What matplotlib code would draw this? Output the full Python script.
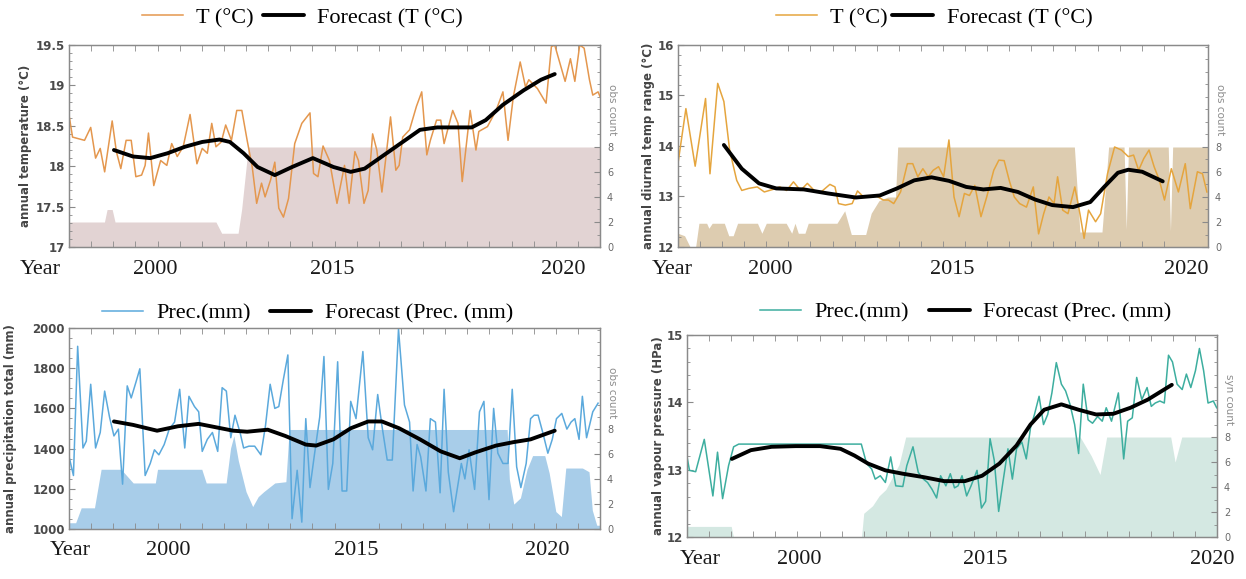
import matplotlib
matplotlib.use("Agg")
import matplotlib.pyplot as plt
from matplotlib.ticker import MultipleLocator, FixedLocator, FuncFormatter

# x positions are in tick units (one minor tick per unit, 0..24 across each frame)

# ---- annual temperature
temp_t = [0, .16, .7, .98, 1.2, 1.41, 1.61, 1.95, 2.14, 2.34, 2.58, 2.81, 3.02, 3.28, 3.44, 3.59,
          3.83, 4.14, 4.42, 4.64, 4.89, 5.16, 5.47, 5.78, 6.02, 6.25, 6.45, 6.64, 6.88, 7.08, 7.34,
          7.58, 7.81, 8.05, 8.28, 8.48, 8.7, 8.86, 9.11, 9.3, 9.48, 9.69, 9.92, 10.2, 10.52, 10.89,
          11.05, 11.25, 11.48, 11.77, 12.11, 12.45, 12.66, 12.92, 13.08, 13.33, 13.52, 13.72, 13.91,
          14.14, 14.53, 14.77, 14.92, 15.08, 15.39, 15.7, 15.94, 16.17, 16.33, 16.61, 16.8, 16.95,
          17.34, 17.58, 17.77, 18.13, 18.39, 18.52, 18.91, 19.3, 19.61, 19.84, 20.08, 20.39, 20.63,
          20.78, 21.17, 21.56, 21.8, 21.95, 22.42, 22.66, 22.86, 23.08, 23.28, 23.52, 23.67, 23.91, 24.0]
temp_val = [18.63, 18.36, 18.32, 18.48, 18.10, 18.22, 17.93, 18.56, 18.18, 17.97, 18.32, 18.32, 17.87,
            17.89, 18.01, 18.41, 17.76, 18.07, 18.01, 18.28, 18.12, 18.24, 18.64, 18.03, 18.22, 18.16,
            18.53, 18.24, 18.30, 18.51, 18.32, 18.69, 18.69, 18.32, 17.99, 17.54, 17.79, 17.62, 17.83,
            18.05, 17.48, 17.37, 17.60, 18.28, 18.53, 18.66, 17.91, 17.87, 18.25, 18.07, 17.54, 18.01,
            17.54, 18.18, 18.07, 17.54, 17.70, 18.40, 18.20, 17.68, 18.61, 17.95, 18.01, 18.36, 18.45,
            18.74, 18.92, 18.14, 18.32, 18.57, 18.57, 18.28, 18.69, 18.53, 17.81, 18.69, 18.20, 18.43,
            18.49, 18.69, 18.92, 18.32, 18.86, 19.29, 18.98, 19.07, 18.96, 18.78, 19.48, 19.50, 19.05,
            19.33, 19.05, 19.50, 19.46, 19.07, 18.88, 18.92, 18.86]
temp_fc_t = [2.03, 2.89, 3.67, 4.45, 5.23, 6.02, 6.8, 7.27, 7.89, 8.52, 9.3, 10.08, 11.02, 11.95,
             12.73, 13.36, 14.14, 15.08, 15.86, 16.64, 17.42, 18.2, 18.83, 19.61, 20.55, 21.33, 21.95]
temp_fc = [18.20, 18.12, 18.10, 18.16, 18.24, 18.30, 18.33, 18.30, 18.16, 17.99, 17.89, 17.99, 18.10,
           17.99, 17.93, 17.97, 18.12, 18.30, 18.45, 18.48, 18.48, 18.48, 18.57, 18.76, 18.94, 19.07, 19.14]
temp_cnt_t = [0, 1.6, 1.72, 1.95, 2.08, 6.64, 6.9, 7.64, 7.8, 8.1, 24]
temp_cnt = [2.0, 2.0, 3.0, 3.0, 2.0, 2.0, 1.1, 1.1, 3.0, 8.0, 8.0]

# ---- annual diurnal temperature range
dtr_t = [0, .36, .78, 1.25, 1.45, 1.8, 2.08, 2.34, 2.66, 2.89, 3.2, 3.59, 3.91, 4.3, 4.61, 4.92,
         5.23, 5.55, 5.86, 6.17, 6.48, 6.88, 7.11, 7.27, 7.58, 7.89, 8.13, 8.36, 8.67, 8.98, 9.3,
         9.53, 9.77, 10.08, 10.39, 10.63, 10.86, 11.09, 11.33, 11.56, 11.8, 12.03, 12.27, 12.5, 12.73,
         12.97, 13.2, 13.44, 13.72, 13.98, 14.3, 14.53, 14.77, 15.0, 15.23, 15.47, 15.78, 16.09,
         16.33, 16.56, 16.8, 17.03, 17.19, 17.42, 17.66, 17.97, 18.2, 18.39, 18.59, 18.91, 19.14,
         19.45, 19.77, 20.08, 20.39, 20.63, 20.86, 21.09, 21.33, 21.56, 21.8, 22.03, 22.34, 22.66,
         22.97, 23.2, 23.52, 23.75, 23.95]
dtr_val = [13.65, 14.74, 13.60, 14.94, 13.45, 15.24, 14.88, 13.92, 13.32, 13.12, 13.16, 13.19, 13.09,
           13.14, 13.19, 13.12, 13.29, 13.12, 13.26, 13.12, 13.09, 13.24, 13.19, 12.86, 12.83, 12.86,
           13.11, 13.01, 12.99, 13.01, 12.93, 12.93, 12.86, 13.09, 13.65, 13.65, 13.39, 13.55, 13.39,
           13.52, 13.59, 13.39, 14.12, 12.99, 12.60, 13.06, 13.02, 13.22, 12.60, 12.99, 13.52, 13.72,
           13.71, 13.32, 12.99, 12.86, 12.79, 13.19, 12.26, 12.66, 12.99, 12.86, 13.39, 12.73, 12.66,
           13.19, 12.66, 12.17, 12.73, 12.50, 12.66, 13.45, 13.98, 13.92, 13.79, 13.82, 13.52, 13.75,
           13.92, 13.59, 13.32, 12.93, 13.55, 13.09, 13.65, 12.76, 13.49, 13.45, 13.09]
dtr_fc_t = [2.08, 2.89, 3.67, 4.45, 5.7, 6.8, 8.05, 9.14, 9.92, 10.7, 11.48, 12.27, 13.05, 13.83,
            14.61, 15.39, 16.17, 16.95, 17.89, 18.67, 19.3, 19.92, 20.39, 21.02, 21.95]
dtr_fc = [14.02, 13.55, 13.26, 13.16, 13.14, 13.06, 12.98, 13.02, 13.16, 13.32, 13.38, 13.31, 13.19,
          13.14, 13.17, 13.09, 12.94, 12.83, 12.79, 12.89, 13.19, 13.47, 13.53, 13.49, 13.30]
dtr_cnt_t = [0, 0.3, 0.55, 0.8, 0.95, 1.3, 1.4, 1.55, 2.1, 2.3, 2.5, 2.7, 3.6, 3.8, 4.0, 4.9, 5.15,
             5.3, 5.45, 5.75, 5.9, 7.2, 7.55, 7.85, 8.5, 8.75, 9.1, 9.5, 9.85, 9.95, 17.95, 18.2,
             19.2, 19.5, 20.2, 20.3, 20.4, 22.2, 22.3, 22.4, 24]
dtr_cnt = [1.1, 0.9, 0.0, 0.0, 1.9, 1.9, 1.5, 1.9, 1.9, 0.9, 0.9, 1.9, 1.9, 1.1, 1.9, 1.9, 1.1, 1.9,
           1.1, 1.1, 1.9, 1.9, 2.9, 1.0, 1.0, 2.7, 3.7, 4.0, 4.0, 8.0, 8.0, 1.2, 1.2, 8.0, 8.0, 1.4,
           8.0, 8.0, 1.3, 8.0, 8.0]

# ---- annual precipitation total
prec_t = [0, .2, .39, .63, .78, .98, 1.2, 1.41, 1.61, 1.83, 2.03, 2.23, 2.42, 2.63, 2.81, 3.02, 3.2,
          3.44, 3.67, 3.86, 4.06, 4.3, 4.53, 4.77, 5.0, 5.23, 5.42, 5.67, 5.86, 6.02, 6.25, 6.48,
          6.72, 6.92, 7.11, 7.31, 7.5, 7.73, 7.89, 8.13, 8.39, 8.67, 8.88, 9.09, 9.3, 9.48, 9.69,
          9.89, 10.08, 10.31, 10.52, 10.7, 10.89, 11.09, 11.33, 11.52, 11.72, 11.92, 12.14, 12.34,
          12.55, 12.73, 12.97, 13.28, 13.52, 13.72, 13.95, 14.14, 14.38, 14.61, 14.89, 15.16, 15.39,
          15.55, 15.73, 15.89, 16.13, 16.33, 16.56, 16.77, 16.95, 17.14, 17.38, 17.58, 17.73, 17.89,
          18.08, 18.33, 18.55, 18.75, 18.98, 19.19, 19.38, 19.61, 19.84, 20.03, 20.23, 20.42, 20.66,
          20.86, 21.02, 21.2, 21.41, 21.64, 21.84, 22.03, 22.27, 22.5, 22.69, 22.86, 23.05, 23.2,
          23.39, 23.67, 23.91]
prec_val = [1360, 1266, 1909, 1403, 1437, 1720, 1403, 1480, 1686, 1557, 1463, 1497, 1223, 1712, 1652,
            1729, 1797, 1266, 1326, 1394, 1369, 1420, 1497, 1532, 1695, 1403, 1660, 1609, 1583, 1386,
            1446, 1480, 1386, 1703, 1686, 1454, 1566, 1480, 1403, 1412, 1412, 1369, 1515, 1720, 1600,
            1609, 1746, 1866, 1051, 1292, 1034, 1549, 1206, 1369, 1557, 1858, 1197, 1326, 1832, 1189,
            1189, 1635, 1549, 1883, 1454, 1394, 1669, 1515, 1343, 1343, 1995, 1617, 1532, 1189, 1420,
            1360, 1189, 1549, 1532, 1180, 1695, 1283, 1086, 1223, 1326, 1249, 1394, 1197, 1583, 1635,
            1146, 1600, 1377, 1326, 1326, 1695, 1309, 1206, 1326, 1549, 1566, 1566, 1480, 1377, 1446,
            1549, 1575, 1497, 1532, 1549, 1446, 1660, 1454, 1583, 1626]
prec_fc_t = [2.03, 2.89, 3.98, 4.92, 5.86, 6.64, 7.42, 8.05, 8.98, 9.77, 10.7, 11.17, 11.95, 12.73,
             13.52, 14.14, 14.92, 15.86, 16.8, 17.66, 18.36, 19.3, 20.08, 20.86, 21.95]
prec_fc = [1535, 1518, 1489, 1511, 1523, 1506, 1489, 1484, 1494, 1463, 1420, 1415, 1446, 1501, 1535,
           1535, 1501, 1446, 1386, 1352, 1381, 1415, 1432, 1446, 1489]
prec_cnt_t = [0, 0.3, 0.55, 1.15, 1.45, 2.35, 2.9, 3.9, 4.0, 6.0, 6.2, 7.1, 7.3, 7.45, 7.65, 8.0, 8.3,
              8.55, 8.8, 9.3, 9.8, 9.95, 19.8, 19.9, 20.1, 20.4, 20.7, 20.95, 21.5, 21.7, 22.0, 22.25,
              22.45, 23.2, 23.5, 23.65, 23.85, 24]
prec_cnt = [0.5, 0.5, 1.7, 1.7, 4.8, 4.8, 3.7, 3.7, 4.8, 4.8, 3.7, 3.7, 6.5, 7.5, 5.5, 3.0, 1.8, 2.6,
            3.0, 3.7, 3.8, 8.0, 8.0, 4.0, 2.0, 2.5, 4.8, 5.9, 5.9, 4.5, 1.4, 1.0, 4.9, 4.9, 4.6, 1.5,
            0.3, 0.3]

# ---- annual vapour pressure
vap_t = [0, .11, .39, .78, 1.17, 1.38, 1.61, 1.88, 2.11, 2.34, 7.89, 8.13, 8.36, 8.52, 8.75, 8.98,
         9.22, 9.45, 9.77, 9.95, 10.23, 10.47, 10.7, 10.89, 11.09, 11.3, 11.48, 11.72, 11.92, 12.11,
         12.27, 12.45, 12.66, 12.86, 13.13, 13.33, 13.52, 13.72, 13.91, 14.11, 14.3, 14.53, 14.73,
         14.92, 15.16, 15.36, 15.55, 15.73, 15.94, 16.14, 16.33, 16.52, 16.72, 16.95, 17.14, 17.34,
         17.55, 17.73, 17.94, 18.16, 18.36, 18.59, 18.8, 18.98, 19.22, 19.53, 19.77, 19.95, 20.16,
         20.36, 20.59, 20.83, 21.02, 21.2, 21.41, 21.61, 21.8, 21.98, 22.19, 22.42, 22.61, 22.81,
         23.02, 23.2, 23.39, 23.59, 23.83, 23.98]
vap_val = [13.19, 12.99, 12.97, 13.45, 12.61, 13.26, 12.57, 13.06, 13.34, 13.38, 13.38, 13.09, 13.01,
           12.86, 12.91, 12.81, 13.19, 12.76, 12.75, 13.06, 13.34, 12.96, 12.86, 12.81, 12.71, 12.58,
           12.91, 12.76, 12.94, 12.73, 12.76, 12.91, 12.61, 12.76, 12.99, 12.43, 12.53, 13.46, 13.14,
           12.38, 12.81, 13.31, 12.86, 13.31, 13.41, 13.16, 13.62, 13.82, 14.09, 13.67, 13.82, 14.14,
           14.59, 14.27, 14.17, 13.97, 13.67, 13.24, 14.27, 13.74, 13.69, 13.79, 13.72, 13.92, 13.72,
           14.14, 13.16, 13.72, 13.77, 14.37, 14.04, 14.22, 13.94, 13.99, 14.02, 13.99, 14.70, 14.60,
           14.27, 14.19, 14.42, 14.22, 14.47, 14.80, 14.47, 13.99, 14.02, 13.92]
vap_fc_t = [2.03, 2.89, 3.83, 4.92, 6.02, 6.95, 7.58, 8.2, 8.98, 9.77, 10.7, 11.64, 12.58, 13.36,
            14.14, 14.92, 15.55, 16.17, 16.95, 17.73, 18.52, 19.3, 20.08, 20.86, 21.95]
vap_fc = [13.16, 13.29, 13.34, 13.35, 13.35, 13.31, 13.21, 13.09, 12.99, 12.94, 12.89, 12.83, 12.83,
          12.91, 13.09, 13.36, 13.67, 13.89, 13.97, 13.89, 13.82, 13.83, 13.92, 14.04, 14.26]
vap_cnt_t = [0, 2.0, 2.1, 7.9, 8.0, 8.4, 8.7, 9.0, 9.6, 9.9, 17.8, 18.3, 18.7, 19.0, 21.9, 22.1, 22.4, 24]
vap_cnt = [0.85, 0.85, 0.0, 0.0, 1.9, 2.5, 3.3, 3.8, 5.8, 8.0, 8.0, 6.5, 5.0, 8.0, 8.0, 6.0, 8.0, 8.0]

year_labels = ["2000", "2015", "2020"]

SERIF = "Liberation Serif"
FRAME = "#8a8a8a"

fig = plt.figure(figsize=(12.46, 5.79), dpi=100)


def draw_panel(rect, t, val, fc_t, fc, cnt_t, cnt, line_color, fill_color, ylim, ymajor, yminor,
               ylabel, ylabel_x, count_label, year_pos, legend_labels, legend_xy, colspace):
    ax = fig.add_axes(rect)
    ax2 = ax.twinx()
    # keep the lines above the count area of the twin axis
    ax.set_zorder(ax2.get_zorder() + 1)
    ax.patch.set_visible(False)

    ax2.fill_between(cnt_t, 0, cnt, color=fill_color, lw=0)
    ax2.set_ylim(0, 16.16)
    ax2.yaxis.set_major_locator(FixedLocator([0, 2, 4, 6, 8]))
    ax2.yaxis.set_minor_locator(MultipleLocator(1))
    ax2.tick_params(axis="y", which="both", direction="in", colors=FRAME, labelcolor="#6a6a6a",
                    labelsize=7, pad=5)
    ax2.tick_params(axis="y", which="major", length=4)
    ax2.tick_params(axis="y", which="minor", length=2.5)
    ax2.text(1.022, 11.0, count_label, rotation=270, ha="center", va="center", fontsize=7.5,
             color="#8c8c8c", transform=ax2.get_yaxis_transform())

    obs, = ax.plot(t, val, color=line_color, lw=1.1)
    fcl, = ax.plot(fc_t, fc, color="black", lw=2.8, solid_capstyle="round")

    ax.set_xlim(0, 24)
    ax.set_ylim(*ylim)
    ax.yaxis.set_major_locator(MultipleLocator(ymajor))
    ax.yaxis.set_minor_locator(MultipleLocator(yminor))
    ax.yaxis.set_major_formatter(FuncFormatter(lambda v, pos: f"{v:g}"))
    ax.set_xticks(year_pos[1:])
    ax.set_xticklabels(year_labels, fontfamily=SERIF, fontsize=16, color="#1a1a1a")
    ax.xaxis.set_minor_locator(MultipleLocator(1))
    ax.tick_params(axis="x", which="major", length=0, pad=9)
    ax.tick_params(axis="x", which="minor", direction="in", length=4, top=True, bottom=True,
                   color=FRAME)
    ax.tick_params(axis="y", which="both", direction="in", color=FRAME, labelcolor="#4a4a4a")
    ax.tick_params(axis="y", which="major", length=4, pad=3)
    ax.tick_params(axis="y", which="minor", length=2.5)
    for lab in ax.get_yticklabels():
        lab.set_fontweight("bold")
        lab.set_fontsize(8.5)
    ax.annotate("Year", xy=(year_pos[0], 0), xycoords=("data", "axes fraction"),
                xytext=(0, -9), textcoords="offset points", ha="center", va="top",
                fontfamily=SERIF, fontsize=16, color="#1a1a1a", annotation_clip=False)

    ax.set_ylabel(ylabel, fontsize=8.5, fontweight="bold", color="#444444")
    ax.yaxis.set_label_coords(ylabel_x, 0.5)

    for ax_ in (ax, ax2):
        for sp in ax_.spines.values():
            sp.set_color(FRAME)
            sp.set_linewidth(0.9)

    leg = ax.legend([obs, fcl], legend_labels, ncol=2, loc="center", bbox_to_anchor=legend_xy,
                    bbox_transform=fig.transFigure, prop={"family": SERIF, "size": 16},
                    handlelength=1.85, handletextpad=0.6, columnspacing=colspace,
                    borderpad=0.1, frameon=True, fancybox=False)
    leg.get_frame().set_facecolor("white")
    leg.get_frame().set_edgecolor("none")
    leg.get_frame().set_alpha(1)
    leg.get_lines()[1].set_linewidth(2.8)
    return ax


draw_panel([0.0554, 0.5734, 0.4262, 0.3489], temp_t, temp_val, temp_fc_t, temp_fc,
           temp_cnt_t, temp_cnt, "#E4974E", "#E2D3D3", (17, 19.5), 0.5, 0.1,
           "annual temperature (°C)", -0.07, "obs count", [-1.3, 3.9, 11.9, 22.35],
           ["T (°C)", "Forecast (T (°C)"], (0.2428, 0.969), 0.4)

draw_panel([0.5441, 0.5734, 0.4254, 0.3489], dtr_t, dtr_val, dtr_fc_t, dtr_fc,
           dtr_cnt_t, dtr_cnt, "#E5A53E", "#DDCCB0", (12, 16), 1, 0.2,
           "annual diurnal temp range (°C)", -0.043, "obs count", [-0.27, 4.16, 12.4, 23.0],
           ["T (°C)", "Forecast (T (°C)"], (0.7496, 0.969), 0.2)

draw_panel([0.0554, 0.0864, 0.4262, 0.3471], prec_t, prec_val, prec_fc_t, prec_fc,
           prec_cnt_t, prec_cnt, "#5BA9DC", "#A8CDE9", (1000, 2000), 200, 50,
           "annual precipitation total (mm)", -0.098, "obs count", [0.05, 4.5, 13.0, 21.6],
           ["Prec.(mm)", "Forecast (Prec. (mm)"], (0.2468, 0.4594), 0.85)

draw_panel([0.5514, 0.0725, 0.4254, 0.3489], vap_t, vap_val, vap_fc_t, vap_fc,
           vap_cnt_t, vap_cnt, "#3DAE9F", "#D4E8E2", (12, 15), 1, 0.2,
           "annual vapour pressure (HPa)", -0.042, "syn count", [0.6, 5.1, 13.5, 23.8],
           ["Prec.(mm)", "Forecast (Prec. (mm)"], (0.7749, 0.4611), 0.9)

fig.savefig("out.png", dpi=100)
